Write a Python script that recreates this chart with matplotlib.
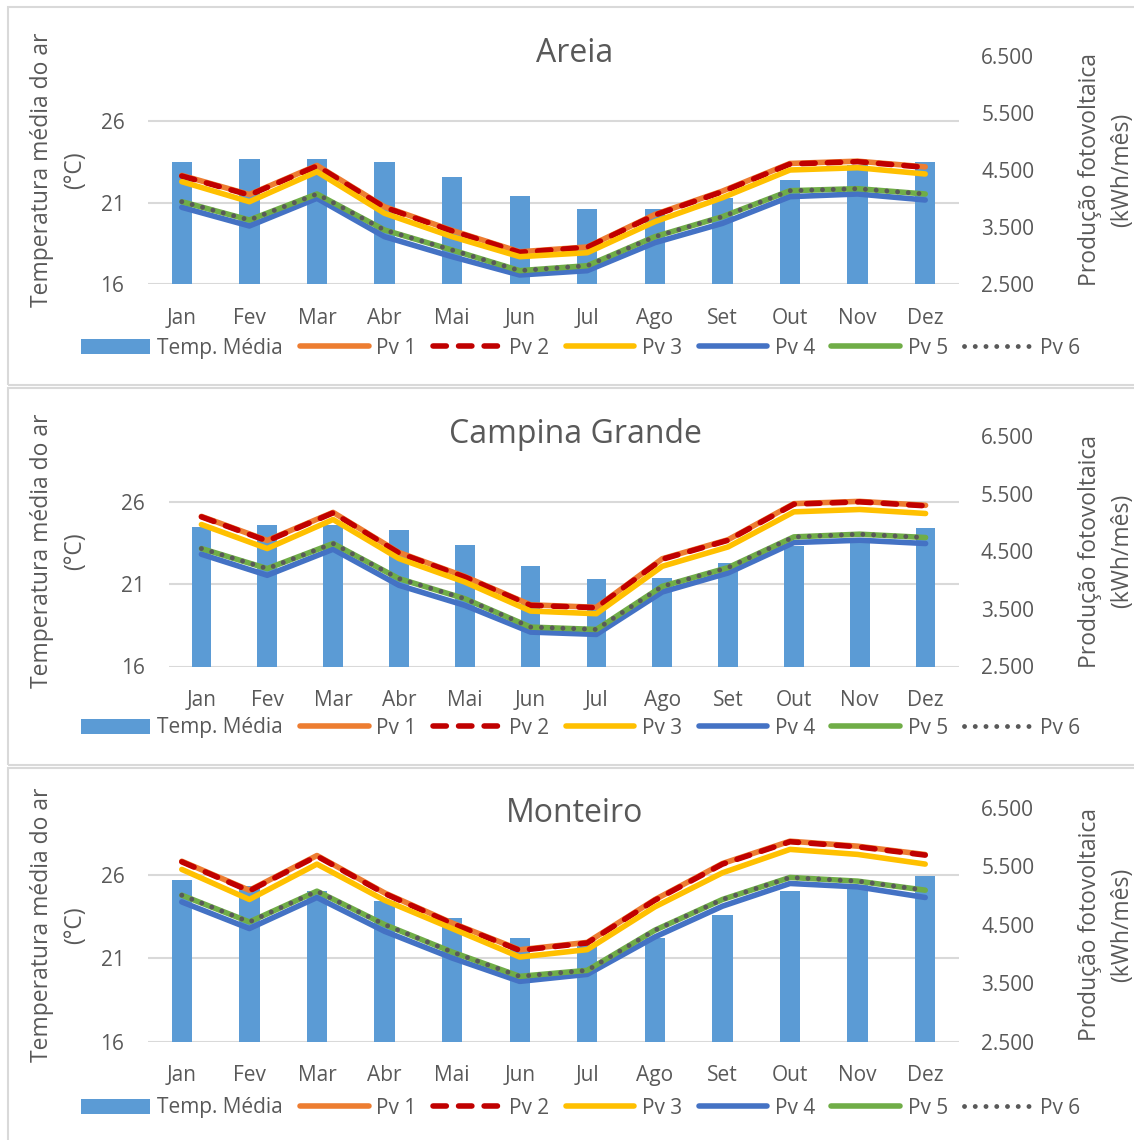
import matplotlib
matplotlib.use('Agg')
import matplotlib.pyplot as plt
from matplotlib.patches import Rectangle
from matplotlib.ticker import FuncFormatter

plt.rcParams['font.family'] = ['Open Sans', 'DejaVu Sans']

months = ['Jan', 'Fev', 'Mar', 'Abr', 'Mai', 'Jun', 'Jul', 'Ago', 'Set', 'Out', 'Nov', 'Dez']
series_names = ['Pv 1', 'Pv 2', 'Pv 3', 'Pv 4', 'Pv 5', 'Pv 6']
cities = ['Areia', 'Campina Grande', 'Monteiro']

# temperatura media (°C)
areia_temp = [23.5, 23.7, 23.7, 23.5, 22.6, 21.4, 20.6, 20.6, 21.3, 22.4, 23.3, 23.5]
campina_temp = [24.5, 24.6, 24.6, 24.3, 23.4, 22.1, 21.3, 21.4, 22.3, 23.3, 23.8, 24.4]
monteiro_temp = [25.7, 25.3, 25.0, 24.4, 23.4, 22.2, 21.8, 22.2, 23.6, 25.0, 25.4, 25.9]

# producao fotovoltaica (kWh/mes)
areia_pv1 = [4405, 4070, 4580, 3855, 3440, 3065, 3150, 3720, 4130, 4615, 4655, 4555]
areia_pv2 = [4395, 4061, 4570, 3845, 3430, 3056, 3143, 3710, 4120, 4605, 4646, 4547]
areia_pv3 = [4295, 3944, 4470, 3740, 3330, 2979, 3049, 3593, 4014, 4500, 4540, 4430]
areia_pv4 = [3845, 3518, 4003, 3330, 2979, 2658, 2734, 3225, 3564, 4032, 4079, 3974]
areia_pv5 = [3944, 3623, 4079, 3447, 3096, 2734, 2821, 3330, 3681, 4137, 4172, 4079]
areia_pv6 = [3944, 3623, 4079, 3447, 3096, 2734, 2821, 3330, 3681, 4137, 4172, 4079]

campina_pv1 = [5105, 4688, 5175, 4480, 4062, 3570, 3528, 4370, 4700, 5326, 5366, 5297]
campina_pv2 = [5097, 4679, 5166, 4470, 4053, 3561, 3520, 4361, 4691, 5317, 5357, 5288]
campina_pv3 = [4964, 4547, 5051, 4373, 3966, 3462, 3416, 4239, 4575, 5184, 5225, 5155]
campina_pv4 = [4448, 4083, 4535, 3909, 3561, 3097, 3057, 3793, 4123, 4651, 4691, 4634]
campina_pv5 = [4547, 4199, 4634, 4025, 3677, 3184, 3143, 3891, 4216, 4749, 4796, 4738]
campina_pv6 = [4547, 4199, 4634, 4025, 3677, 3184, 3143, 3891, 4216, 4749, 4796, 4738]

monteiro_pv1 = [5588, 5090, 5686, 5046, 4530, 4072, 4198, 4930, 5549, 5932, 5846, 5703]
monteiro_pv2 = [5578, 5080, 5676, 5036, 4520, 4062, 4188, 4920, 5539, 5922, 5836, 5693]
monteiro_pv3 = [5448, 4933, 5539, 4920, 4435, 3947, 4074, 4806, 5390, 5791, 5705, 5539]
monteiro_pv4 = [4891, 4435, 4967, 4388, 3930, 3530, 3650, 4290, 4818, 5207, 5149, 4967]
monteiro_pv5 = [5006, 4548, 5075, 4503, 4033, 3616, 3719, 4406, 4933, 5310, 5247, 5092]
monteiro_pv6 = [5006, 4548, 5075, 4503, 4033, 3616, 3719, 4406, 4933, 5310, 5247, 5092]

temps = [areia_temp, campina_temp, monteiro_temp]
pvs = [
    [areia_pv1, areia_pv2, areia_pv3, areia_pv4, areia_pv5, areia_pv6],
    [campina_pv1, campina_pv2, campina_pv3, campina_pv4, campina_pv5, campina_pv6],
    [monteiro_pv1, monteiro_pv2, monteiro_pv3, monteiro_pv4, monteiro_pv5, monteiro_pv6],
]

W, H = 1134, 1140
fig = plt.figure(figsize=(W / 100, H / 100), dpi=100)

txt = '#595959'
grid = '#D9D9D9'
bar_color = '#5B9BD5'
line_styles = [
    dict(color='#ED7D31', lw=4, ls='-', solid_capstyle='round'),
    dict(color='#C00000', lw=4, ls=(0, (2.4, 2.2)), dash_capstyle='round'),
    dict(color='#FFC000', lw=4, ls='-', solid_capstyle='round'),
    dict(color='#4472C4', lw=4, ls='-', solid_capstyle='round'),
    dict(color='#70AD47', lw=4, ls='-', solid_capstyle='round'),
    dict(color='#595959', lw=3.5, ls=(0, (0.01, 2.2)), dash_capstyle='round'),
]

# pixel layout of each panel: frame top/bottom, plot left/right/top/bottom
panels = [
    dict(frame=(7, 385), plot=(148, 959, 56, 284), title_y=54, legend_y=348),
    dict(frame=(388, 765), plot=(168.5, 958.5, 436, 666.5), title_y=434, legend_y=728),
    dict(frame=(768, 1145), plot=(148, 959, 808, 1041.5), title_y=814, legend_y=1108),
]

thousands = FuncFormatter(lambda v, p: f'{int(v):,}'.replace(',', '.'))

for i, pan in enumerate(panels):
    ft, fb = pan['frame']
    fig.add_artist(Rectangle((8 / W, 1 - fb / H), (W + 20) / W, (fb - ft) / H,
                             transform=fig.transFigure, fill=False,
                             edgecolor=grid, lw=1.5))
    l, r, t, b = pan['plot']
    ax = fig.add_axes([l / W, 1 - b / H, (r - l) / W, (b - t) / H])
    x = range(len(months))
    bars = ax.bar(x, temps[i], width=0.3, color=bar_color, zorder=2, label='Temp. Média')
    ax.set_xlim(-0.5, 11.5)
    ax.set_ylim(16, 30)
    ax.set_yticks([16, 21, 26])
    ax.grid(axis='y', color=grid, lw=1.5, zorder=0)
    ax.set_axisbelow(True)
    for s in ax.spines.values():
        s.set_visible(False)
    ax.set_xticks(list(x))
    ax.set_xticklabels(months)
    ax.tick_params(axis='both', length=0, labelsize=15, labelcolor=txt)
    ax.tick_params(axis='x', pad=17)
    ax.tick_params(axis='y', pad=17)

    ax2 = ax.twinx()
    handles = [bars]
    for j, vals in enumerate(pvs[i]):
        h, = ax2.plot(x, vals, label=series_names[j], **line_styles[j])
        handles.append(h)
    ax2.set_ylim(2500, 6500)
    ax2.set_yticks([2500, 3500, 4500, 5500, 6500])
    ax2.yaxis.set_major_formatter(thousands)
    for s in ax2.spines.values():
        s.set_visible(False)
    ax2.tick_params(axis='y', length=0, labelsize=15, labelcolor=txt, pad=16)

    fig.text(575 / W, 1 - pan['title_y'] / H, cities[i], ha='center', va='center',
             fontsize=23, color=txt)
    yc = 1 - (t + b) / 2 / H
    fig.text(58.5 / W, yc, 'Temperatura média do ar\n(°C)', rotation=90, ha='center',
             va='center', multialignment='center', fontsize=16.5, color=txt, linespacing=1.5)
    fig.text(1106 / W, yc, 'Produção fotovoltaica\n(kWh/mês)', rotation=90, ha='center',
             va='center', multialignment='center', fontsize=16.5, color=txt, linespacing=1.45)

    fig.legend(handles=handles, labels=['Temp. Média'] + series_names, ncol=7,
               loc='center', bbox_to_anchor=(581 / W, 1 - pan['legend_y'] / H),
               frameon=False, fontsize=15, handlelength=3.3, handletextpad=0.35,
               columnspacing=0.8, labelcolor=txt, borderaxespad=0)

fig.savefig('out.png', dpi=100)
